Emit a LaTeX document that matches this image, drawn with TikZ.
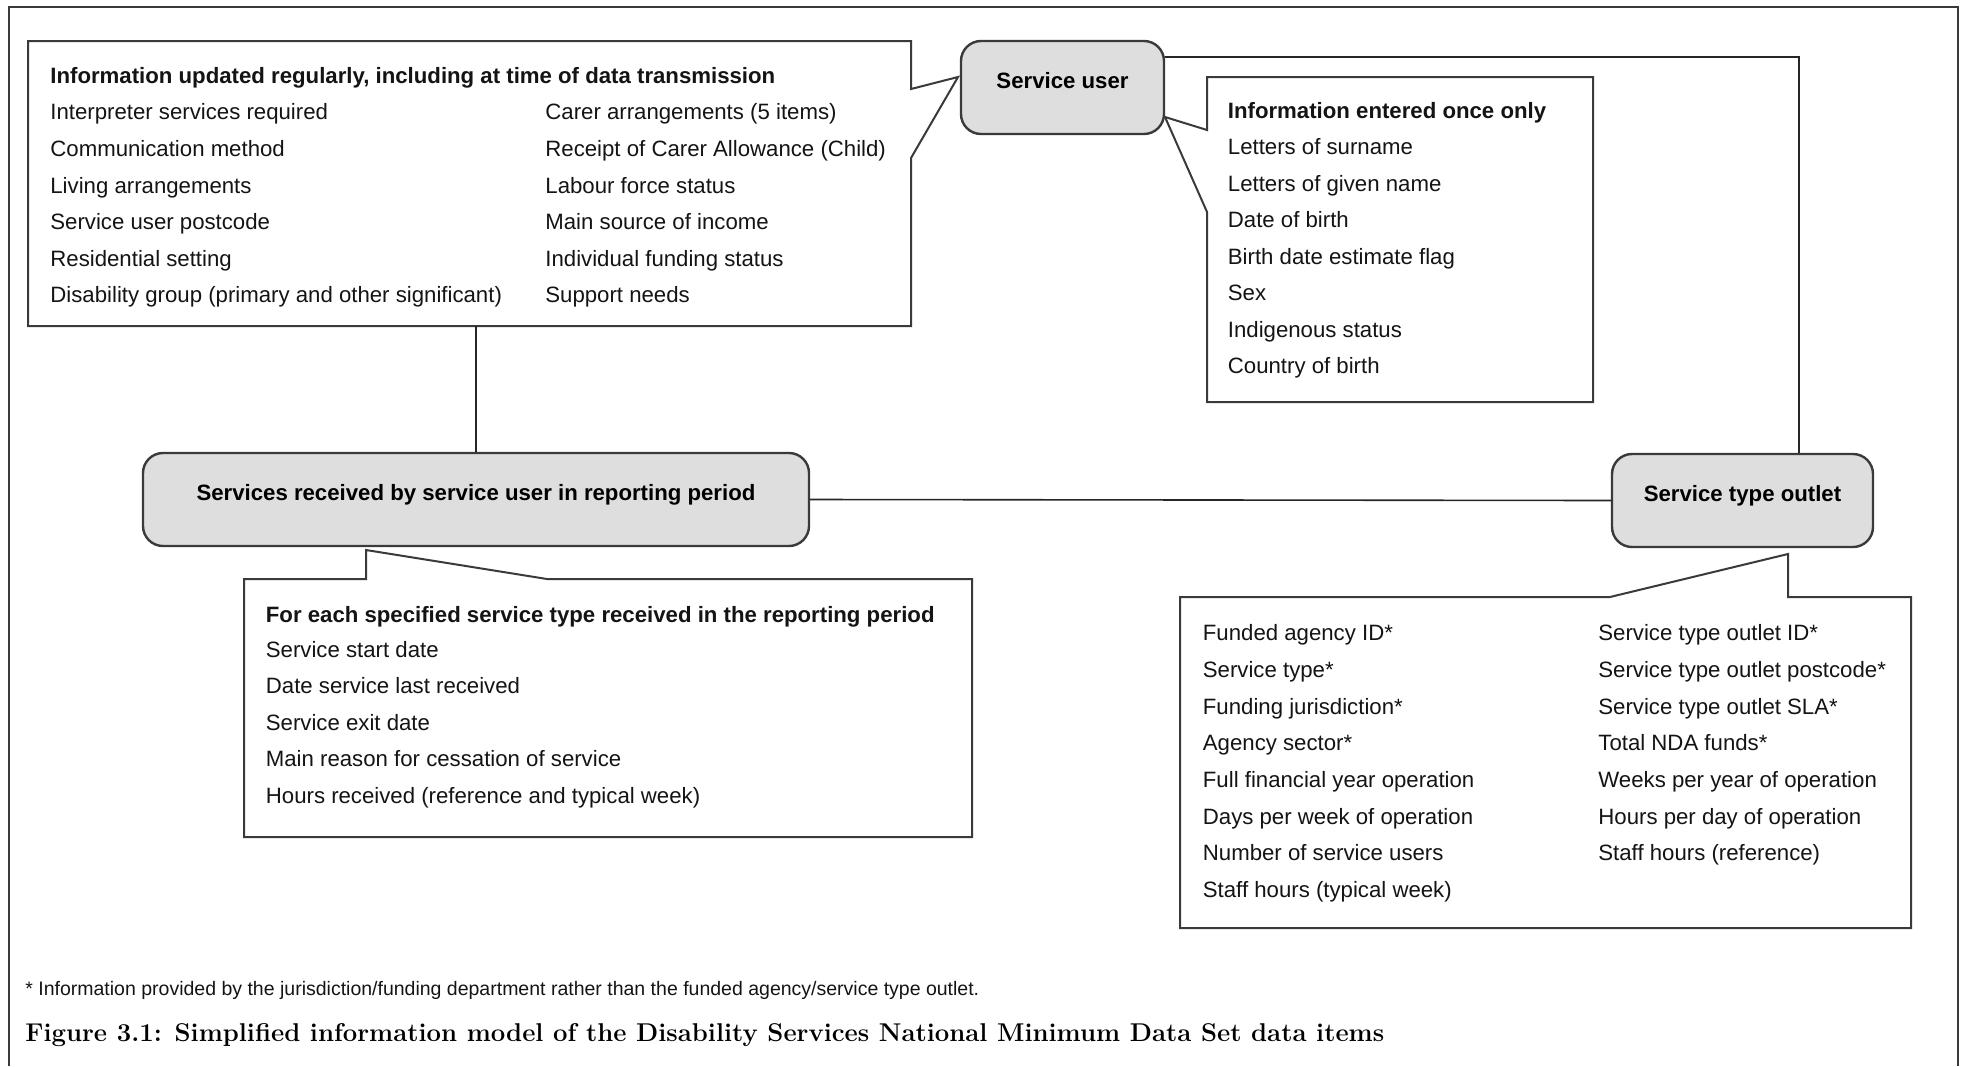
\documentclass[tikz,border=0pt]{standalone}
\usepackage{fontspec}
\newfontfamily\arial{Liberation Sans}
\definecolor{boxfill}{HTML}{DEDEDE}
\definecolor{edge}{HTML}{3A3A3A}
\tikzset{
  frame/.style={draw=edge, line width=1pt},
  card/.style={draw=edge, fill=white, line width=1pt, line join=miter},
  ent/.style={draw=edge, fill=boxfill, rounded corners=10pt, line width=1.2pt,
    font=\arial\bfseries\fontsize{11.1}{13}\selectfont, text height=10pt, text depth=9pt,
    inner sep=0pt, minimum height=46.5pt},
  link/.style={draw=black!85, line width=0.8pt},
  txt/.style={anchor=base west, inner sep=0pt, text=black!92, font=\arial\fontsize{11.1}{13}\selectfont},
  hdr/.style={txt, font=\arial\bfseries\fontsize{11.1}{13}\selectfont},
}
\begin{document}
\begin{tikzpicture}[x=0.5pt,y=-0.5pt]
\useasboundingbox (0,0) rectangle (1964,1066);
% outer frame
\draw[frame] (9,1066) -- (9,7) -- (1958,7) -- (1958,1066);

% callout boxes
\draw[card] (28,41) -- (911,41) -- (911,89) -- (958,77) -- (911,158) -- (911,326) -- (28,326) -- cycle;
\draw[card] (1207,77) -- (1593,77) -- (1593,402) -- (1207,402) -- (1207,212) -- (1165,117) -- (1207,130) -- cycle;
\draw[card] (244,579) -- (366,579) -- (366,550) -- (547,579) -- (972,579) -- (972,837) -- (244,837) -- cycle;
\draw[card] (1180,597) -- (1610,597) -- (1788,554) -- (1788,597) -- (1911,597) -- (1911,928) -- (1180,928) -- cycle;
\coordinate (b1bot) at (476,326);

% entity nodes
\node[ent, minimum width=101.5pt] (su) at (1062.5,87.5) {Service user};
\node[ent, minimum width=333pt] (srv) at (476,499.5) {Services received by service user in reporting period};
\node[ent, minimum width=130.5pt] (sto) at (1742.5,500.5) {Service type outlet};

% connectors
\draw[link] ([yshift=-8.5pt]su.north east) -| ([xshift=28.25pt]sto.north);
\draw[link] (srv.east) -- (sto.west);
\draw[link] (srv.north) -- (b1bot);

% box 1 text
\node[hdr] (b1h) at (50,83) {Information updated regularly, including at time of data transmission};
\foreach \t [count=\i] in {{Interpreter services required},{Communication method},{Living arrangements},{Service user postcode},{Residential setting},{Disability group (primary and other significant)}}
  \node[txt] (b1a\i) at (50,{119.8+36.6*(\i-1)}) {\t};
\foreach \t [count=\i] in {{Carer arrangements (5 items)},{Receipt of Carer Allowance (Child)},{Labour force status},{Main source of income},{Individual funding status},{Support needs}}
  \node[txt] (b1b\i) at (545,{119.8+36.6*(\i-1)}) {\t};

% box 2 text
\node[hdr] (b2h) at (1227.5,118) {Information entered once only};
\foreach \t [count=\i] in {{Letters of surname},{Letters of given name},{Date of birth},{Birth date estimate flag},{Sex},{Indigenous status},{Country of birth}}
  \node[txt] (b2a\i) at (1227.5,{154.6+36.5*(\i-1)}) {\t};

% box 3 text
\node[hdr] (b3h) at (265.5,622) {For each specified service type received in the reporting period};
\foreach \t [count=\i] in {{Service start date},{Date service last received},{Service exit date},{Main reason for cessation of service},{Hours received (reference and typical week)}}
  \node[txt] (b3a\i) at (265.5,{657+36.6*(\i-1)}) {\t};

% box 4 text
\foreach \t [count=\i] in {{Funded agency ID*},{Service type*},{Funding jurisdiction*},{Agency sector*},{Full financial year operation},{Days per week of operation},{Number of service users},{Staff hours (typical week)}}
  \node[txt] (b4a\i) at (1202.5,{640.6+36.7*(\i-1)}) {\t};
\foreach \t [count=\i] in {{Service type outlet ID*},{Service type outlet postcode*},{Service type outlet SLA*},{Total NDA funds*},{Weeks per year of operation},{Hours per day of operation},{Staff hours (reference)}}
  \node[txt] (b4b\i) at (1598,{640.6+36.7*(\i-1)}) {\t};

% footnote and caption
\node[txt, font=\arial\fontsize{9.75}{11}\selectfont] (fn) at (25,995) {* Information provided by the jurisdiction/funding department rather than the funded agency/service type outlet.};
\node[anchor=base west, inner sep=0pt, font=\rmfamily\bfseries\fontsize{12.85}{14}\selectfont] (cap) at (25,1041) {Figure 3.1: Simplified information model of the Disability Services National Minimum Data Set data items};
\end{tikzpicture}
\end{document}
